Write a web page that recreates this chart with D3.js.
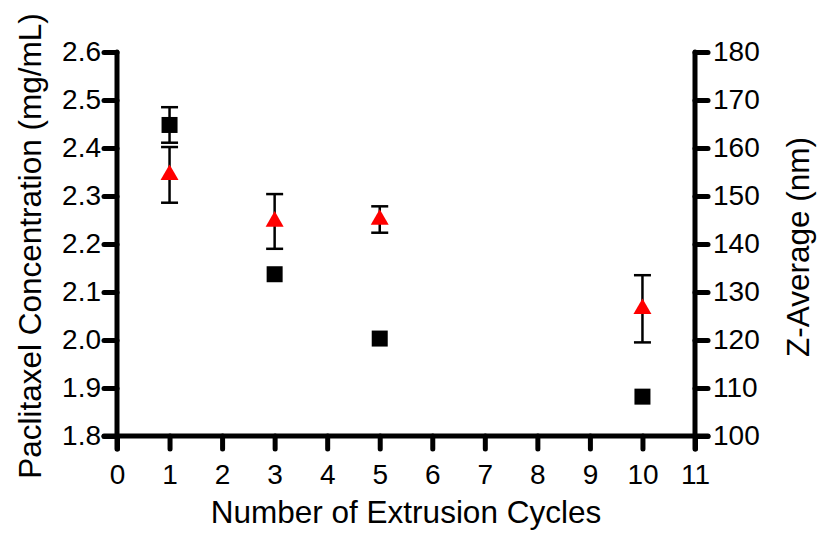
<!DOCTYPE html>
<html>
<head>
<meta charset="utf-8">
<script src="https://cdn.jsdelivr.net/npm/d3@7"></script>
<style>
  body { margin: 0; background: #fff; }
  text { font-family: "Liberation Sans", Arial, sans-serif; fill: #000; }
</style>
</head>
<body>
<div id="chart"></div>
<script>
// extrusion cycles
const cycles = [1, 3, 5, 10];
// paclitaxel concentration (mg/mL), left axis, black squares
const concValues = [2.448, 2.137, 2.003, 1.882];
const concErrors = [0.037, 0, 0, 0];
// z-average (nm), right axis, red triangles
const zValues = [154.4, 144.7, 145.1, 126.5];
const zErrors = [5.8, 5.7, 2.75, 7.0];

const xTicks = d3.range(0, 12);
const leftTicks = [1.8, 1.9, 2.0, 2.1, 2.2, 2.3, 2.4, 2.5, 2.6];
const rightTicks = [100, 110, 120, 130, 140, 150, 160, 170, 180];

const width = 827, height = 533;
const margin = { top: 52, right: 132, bottom: 97, left: 117 };

const svg = d3.select("#chart")
    .append("svg")
    .attr("width", width)
    .attr("height", height);

const x = d3.scaleLinear().domain([0, 11]).range([margin.left, width - margin.right]);
const yL = d3.scaleLinear().domain([1.8, 2.6]).range([height - margin.bottom, margin.top]);
const yR = d3.scaleLinear().domain([100, 180]).range([height - margin.bottom, margin.top]);

const axisW = 5;
const tickLen = 13;

function styleAxis(g) {
    g.select(".domain").remove();
    g.selectAll(".tick line").attr("stroke", "#000").attr("stroke-width", axisW).attr("stroke-linecap", "round");
    g.selectAll(".tick text").style("font-size", "28px");
}

// bottom axis
const gx = svg.append("g")
    .attr("transform", `translate(0,${yL.range()[0]})`)
    .call(d3.axisBottom(x).tickValues(xTicks).tickSize(tickLen).tickPadding(15))
    .call(styleAxis);
gx.append("line")
    .attr("x1", x(0) - tickLen).attr("x2", x(11) + tickLen)
    .attr("stroke", "#000").attr("stroke-width", axisW).attr("stroke-linecap", "round");

// left axis
const gl = svg.append("g")
    .attr("transform", `translate(${x(0)},0)`)
    .call(d3.axisLeft(yL).tickValues(leftTicks).tickFormat(d3.format(".1f")).tickSize(tickLen).tickPadding(3))
    .call(styleAxis);
gl.append("line")
    .attr("y1", yL(2.6)).attr("y2", yL(1.8) + tickLen)
    .attr("stroke", "#000").attr("stroke-width", axisW).attr("stroke-linecap", "round");

// right axis
const gr = svg.append("g")
    .attr("transform", `translate(${x(11)},0)`)
    .call(d3.axisRight(yR).tickValues(rightTicks).tickSize(tickLen).tickPadding(5))
    .call(styleAxis);
gr.append("line")
    .attr("y1", yR(180)).attr("y2", yR(100) + tickLen)
    .attr("stroke", "#000").attr("stroke-width", axisW).attr("stroke-linecap", "round");

// axis titles
svg.append("text")
    .attr("x", 406)
    .attr("y", 523)
    .attr("text-anchor", "middle")
    .style("font-size", "31.5px")
    .text("Number of Extrusion Cycles");

svg.append("text")
    .attr("transform", `translate(41,246) rotate(-90)`)
    .attr("text-anchor", "middle")
    .style("font-size", "31.5px")
    .text("Paclitaxel Concentration (mg/mL)");

svg.append("text")
    .attr("transform", `translate(809,247) rotate(-90)`)
    .attr("text-anchor", "middle")
    .style("font-size", "31.5px")
    .text("Z-Average (nm)");

// error bars
function errorBars(values, errors, y) {
    const capW = 8.5;
    const g = svg.append("g");
    cycles.forEach((c, i) => {
        if (!errors[i]) return;
        const cx = x(c), top = y(values[i] + errors[i]), bot = y(values[i] - errors[i]);
        g.append("line").attr("x1", cx).attr("x2", cx).attr("y1", top).attr("y2", bot)
            .attr("stroke", "#000").attr("stroke-width", 2.5);
        [top, bot].forEach(yy => g.append("line")
            .attr("x1", cx - capW).attr("x2", cx + capW).attr("y1", yy).attr("y2", yy)
            .attr("stroke", "#000").attr("stroke-width", 2.5));
    });
}
errorBars(concValues, concErrors, yL);
errorBars(zValues, zErrors, yR);

// squares
svg.append("g").selectAll("rect")
    .data(cycles)
    .join("rect")
    .attr("x", (d) => x(d) - 8)
    .attr("y", (d, i) => yL(concValues[i]) - 8)
    .attr("width", 16)
    .attr("height", 16)
    .attr("fill", "#000");

// triangles
const tri = d3.symbol().type(d3.symbolTriangle).size(140);
svg.append("g").selectAll("path")
    .data(cycles)
    .join("path")
    .attr("d", tri)
    .attr("transform", (d, i) => `translate(${x(d)},${yR(zValues[i])})`)
    .attr("fill", "#ff0000");
</script>
</body>
</html>
